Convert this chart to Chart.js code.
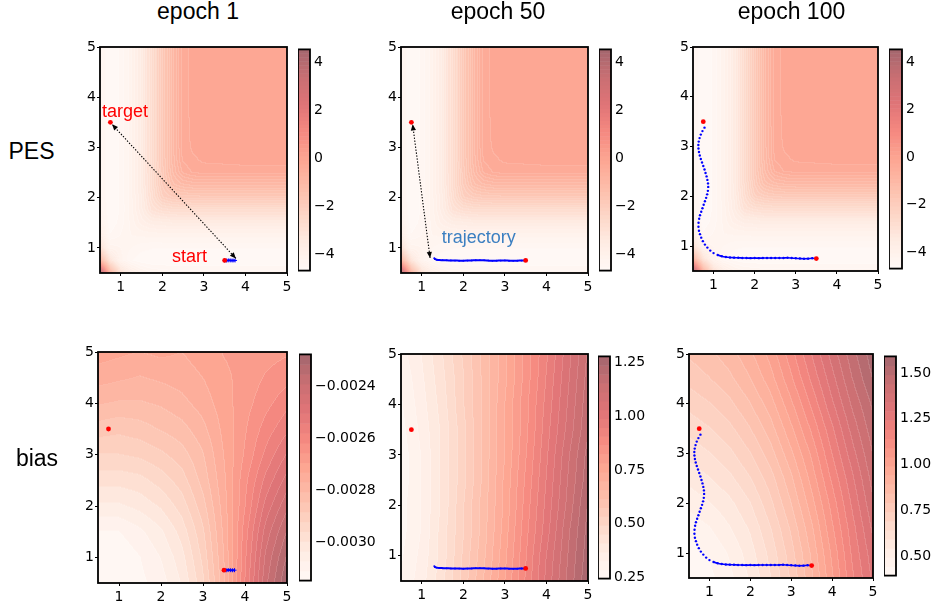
<!DOCTYPE html>
<html>
<head>
<meta charset="utf-8">
<script src="https://cdn.jsdelivr.net/npm/chart.js@4.4.1/dist/chart.umd.min.js"></script>
<style>
  body { margin: 0; background: #fff; }
  #page { position: relative; width: 936px; height: 605px; overflow: hidden; background: #fff; }
  .lbl { position: absolute; white-space: nowrap; color: #000; font-family: "Liberation Sans", Arial, sans-serif; font-size: 23px; line-height: 23px; transform: translateX(-50%); }
</style>
</head>
<body>
<div id="page"></div>
<script>
// ---- data ----
const axisTicks = [1, 2, 3, 4, 5];
const columnTitles = ['epoch 1', 'epoch 50', 'epoch 100'];
const rowTitles = ['PES', 'bias'];

// PES surface, rows go up in y, columns go right in x
const pesGridX = [0.5, 0.75, 1.0, 1.25, 1.5, 1.75, 2.0, 2.25, 2.5, 2.75, 3.0, 4.0, 5.0];
const pesGridY = [0.5, 0.75, 1.0, 1.25, 1.5, 1.75, 2.0, 2.25, 2.5, 2.75, 3.0, 4.0, 5.0];
const pesValues = [
  [ 4.50, -0.50, -2.80, -3.60, -4.00, -4.20, -4.25, -4.30, -4.30, -4.30, -4.30, -4.30, -4.30],
  [-0.50, -3.00, -4.10, -4.50, -4.65, -4.70, -4.70, -4.70, -4.70, -4.70, -4.70, -4.70, -4.70],
  [-2.80, -4.10, -4.20, -4.35, -4.45, -4.50, -4.50, -4.50, -4.50, -4.50, -4.50, -4.50, -4.50],
  [-3.60, -4.50, -4.35, -4.20, -4.15, -4.12, -4.10, -4.10, -4.10, -4.10, -4.10, -4.10, -4.10],
  [-4.00, -4.65, -4.45, -4.15, -3.80, -3.60, -3.55, -3.50, -3.50, -3.50, -3.50, -3.50, -3.50],
  [-4.20, -4.70, -4.50, -4.12, -3.60, -3.00, -2.80, -2.72, -2.70, -2.70, -2.70, -2.70, -2.70],
  [-4.25, -4.70, -4.50, -4.10, -3.55, -2.80, -2.10, -1.90, -1.82, -1.80, -1.80, -1.80, -1.80],
  [-4.30, -4.70, -4.50, -4.10, -3.50, -2.72, -1.90, -1.30, -1.10, -1.02, -1.00, -1.00, -1.00],
  [-4.30, -4.70, -4.50, -4.10, -3.50, -2.70, -1.82, -1.10, -0.55, -0.38, -0.34, -0.32, -0.32],
  [-4.30, -4.70, -4.50, -4.10, -3.50, -2.70, -1.80, -1.02, -0.38, -0.28, -0.21, -0.18, -0.18],
  [-4.30, -4.70, -4.50, -4.10, -3.50, -2.70, -1.80, -1.00, -0.34, -0.21, -0.17, -0.15, -0.15],
  [-4.30, -4.70, -4.50, -4.10, -3.50, -2.70, -1.80, -1.00, -0.32, -0.18, -0.15, -0.13, -0.12],
  [-4.30, -4.70, -4.50, -4.10, -3.50, -2.70, -1.80, -1.00, -0.32, -0.18, -0.15, -0.12, -0.10]
];
const pesRange = [-4.69, 4.53];
const pesTicks = [-4, -2, 0, 2, 4];

// bias surfaces share one grid
const biasGridX = [0.5, 1.0, 1.5, 2.0, 2.5, 3.0, 3.5, 4.0, 4.5, 5.0];
const biasGridY = [0.5, 1.0, 1.5, 2.0, 2.5, 3.0, 3.5, 4.0, 4.5, 5.0];
const bias1Values = [
  [-0.00315, -0.00314, -0.00312, -0.00309, -0.00303, -0.00293, -0.00278, -0.00258, -0.00240, -0.00228],
  [-0.00314, -0.00314, -0.00311, -0.00307, -0.00301, -0.00291, -0.00277, -0.00259, -0.00242, -0.00231],
  [-0.00311, -0.00311, -0.00308, -0.00304, -0.00298, -0.00289, -0.00276, -0.00260, -0.00245, -0.00235],
  [-0.00304, -0.00304, -0.00302, -0.00299, -0.00294, -0.00286, -0.00275, -0.00262, -0.00249, -0.00240],
  [-0.00298, -0.00298, -0.00297, -0.00294, -0.00290, -0.00283, -0.00274, -0.00263, -0.00253, -0.00245],
  [-0.00292, -0.00292, -0.00291, -0.00289, -0.00286, -0.00281, -0.00273, -0.00265, -0.00257, -0.00250],
  [-0.00286, -0.00287, -0.00286, -0.00284, -0.00282, -0.00278, -0.00272, -0.00266, -0.00260, -0.00255],
  [-0.00280, -0.00281, -0.00281, -0.00280, -0.00278, -0.00275, -0.00271, -0.00267, -0.00263, -0.00259],
  [-0.00275, -0.00276, -0.00277, -0.00276, -0.00275, -0.00273, -0.00270, -0.00268, -0.00265, -0.00263],
  [-0.00271, -0.00272, -0.00273, -0.00272, -0.00273, -0.00271, -0.00269, -0.00268, -0.00267, -0.00266]
];
const bias1Range = [-0.003147, -0.002275];
const bias1Ticks = [-0.0030, -0.0028, -0.0026, -0.0024];

const bias50Values = [
  [0.29, 0.35, 0.44, 0.55, 0.66, 0.78, 0.91, 1.04, 1.16, 1.27],
  [0.28, 0.34, 0.43, 0.54, 0.65, 0.77, 0.90, 1.03, 1.15, 1.26],
  [0.27, 0.33, 0.43, 0.53, 0.64, 0.76, 0.89, 1.01, 1.14, 1.25],
  [0.27, 0.33, 0.42, 0.53, 0.64, 0.75, 0.88, 1.00, 1.12, 1.24],
  [0.26, 0.33, 0.42, 0.52, 0.63, 0.75, 0.87, 0.99, 1.11, 1.22],
  [0.26, 0.33, 0.42, 0.52, 0.63, 0.74, 0.86, 0.98, 1.10, 1.21],
  [0.27, 0.34, 0.42, 0.52, 0.63, 0.74, 0.85, 0.97, 1.08, 1.19],
  [0.28, 0.35, 0.43, 0.53, 0.63, 0.74, 0.85, 0.96, 1.07, 1.18],
  [0.29, 0.36, 0.44, 0.53, 0.63, 0.73, 0.84, 0.95, 1.06, 1.17],
  [0.31, 0.37, 0.45, 0.54, 0.63, 0.73, 0.84, 0.94, 1.05, 1.16]
];
const bias50Range = [0.245, 1.28];
const bias50Ticks = [0.25, 0.50, 0.75, 1.00, 1.25];

const bias100Values = [
  [0.40, 0.43, 0.48, 0.55, 0.64, 0.75, 0.88, 1.03, 1.18, 1.30],
  [0.42, 0.45, 0.50, 0.57, 0.66, 0.77, 0.90, 1.05, 1.20, 1.32],
  [0.46, 0.49, 0.54, 0.60, 0.69, 0.80, 0.93, 1.08, 1.22, 1.35],
  [0.51, 0.54, 0.58, 0.64, 0.73, 0.84, 0.97, 1.11, 1.25, 1.38],
  [0.56, 0.59, 0.63, 0.69, 0.77, 0.88, 1.01, 1.15, 1.28, 1.41],
  [0.61, 0.64, 0.68, 0.74, 0.82, 0.93, 1.05, 1.19, 1.32, 1.44],
  [0.66, 0.69, 0.73, 0.79, 0.87, 0.98, 1.10, 1.23, 1.36, 1.47],
  [0.71, 0.74, 0.78, 0.84, 0.92, 1.03, 1.15, 1.28, 1.40, 1.50],
  [0.76, 0.79, 0.83, 0.89, 0.97, 1.08, 1.20, 1.32, 1.44, 1.54],
  [0.80, 0.83, 0.87, 0.93, 1.01, 1.12, 1.24, 1.36, 1.47, 1.57]
];
const bias100Range = [0.394, 1.59];
const bias100Ticks = [0.50, 0.75, 1.00, 1.25, 1.50];

// start and target points
const targetPoint = { x: 0.75, y: 3.5 };
const startPoint = { x: 3.5, y: 0.75 };

// trajectories, from start towards target
const traj1X = [3.5, 3.55, 3.6, 3.65, 3.7, 3.75];
const traj1Y = [0.75, 0.748, 0.752, 0.75, 0.748, 0.75];

const traj50X = [3.5, 3.4, 3.3, 3.2, 3.1, 3.0, 2.9, 2.8, 2.7, 2.6, 2.5, 2.4, 2.3, 2.2, 2.1, 2.0, 1.9, 1.8, 1.7, 1.6, 1.5, 1.42, 1.36, 1.32, 1.3];
const traj50Y = [0.75, 0.748, 0.745, 0.742, 0.745, 0.75, 0.748, 0.745, 0.743, 0.747, 0.752, 0.755, 0.754, 0.75, 0.747, 0.745, 0.746, 0.748, 0.75, 0.752, 0.755, 0.758, 0.765, 0.775, 0.795];

const traj100X = [3.5, 3.4, 3.3, 3.2, 3.1, 3.0, 2.9, 2.8, 2.7, 2.6, 2.5, 2.4, 2.3, 2.2, 2.1, 2.0, 1.9, 1.8, 1.7, 1.6, 1.5, 1.4, 1.3, 1.2, 1.1, 1.0,
  0.92, 0.85, 0.79, 0.74, 0.70, 0.67, 0.645, 0.633, 0.635, 0.65, 0.67, 0.70, 0.73, 0.76, 0.79, 0.82, 0.845, 0.862, 0.87, 0.865,
  0.85, 0.83, 0.805, 0.78, 0.75, 0.72, 0.69, 0.665, 0.645, 0.633, 0.63, 0.64, 0.66, 0.69, 0.73, 0.78];
const traj100Y = [0.75, 0.755, 0.748, 0.745, 0.75, 0.755, 0.76, 0.765, 0.762, 0.76, 0.762, 0.76, 0.762, 0.76, 0.758, 0.76, 0.758, 0.76, 0.762, 0.765, 0.768, 0.772, 0.78, 0.795, 0.82, 0.86,
  0.91, 0.97, 1.03, 1.10, 1.17, 1.24, 1.31, 1.39, 1.47, 1.55, 1.62, 1.69, 1.76, 1.83, 1.90, 1.97, 2.04, 2.11, 2.19, 2.26,
  2.33, 2.40, 2.47, 2.54, 2.61, 2.68, 2.75, 2.82, 2.89, 2.96, 3.03, 3.10, 3.17, 3.24, 3.31, 3.38];

// dotted double arrows (tail, head)
const arrow1 = [[3.77, 0.79], [0.79, 3.46]];
const arrow50 = [[1.2, 0.8], [0.78, 3.46]];

// text labels: [text, x, y]
const labels1 = [['target', 0.55, 3.61], ['start', 2.23, 0.72]];
const labels50 = [['trajectory', 1.48, 1.1]];

// ---- layout (pixel boxes: left, top, right, bottom) ----
const layout = [
  { ax: [100, 47, 287, 273], cb: [298, 47, 310, 273] },
  { ax: [401, 47, 588, 273], cb: [599, 47, 611, 273] },
  { ax: [693, 47, 878, 271], cb: [889, 47, 902, 271] },
  { ax: [98, 352, 287, 583], cb: [299, 352, 311, 583] },
  { ax: [401, 354, 588, 581], cb: [598, 354, 610, 581] },
  { ax: [689, 354, 873, 578], cb: [884, 354, 896, 578] }
];
const titleX = [198, 498, 791.5];
const titleBaseline = 19;
const rowX = [31.5, 37];
const rowBaseline = [159, 466];

const tickFont = { family: 'DejaVu Sans', size: 14 };
const textFont = '18px "Liberation Sans", Arial, sans-serif';

const pesField = { xs: pesGridX, ys: pesGridY, z: pesValues, range: pesRange, levels: 56, ticks: pesTicks, digits: 0 };
const bias1Field = { xs: biasGridX, ys: biasGridY, z: bias1Values, range: bias1Range, levels: 23, ticks: bias1Ticks, digits: 4 };
const bias50Field = { xs: biasGridX, ys: biasGridY, z: bias50Values, range: bias50Range, levels: 25, ticks: bias50Ticks, digits: 2 };
const bias100Field = { xs: biasGridX, ys: biasGridY, z: bias100Values, range: bias100Range, levels: 24, ticks: bias100Ticks, digits: 2 };

const runs = [
  { tx: traj1X, ty: traj1Y, style: 'short' },
  { tx: traj50X, ty: traj50Y, style: 'line' },
  { tx: traj100X, ty: traj100Y, style: 'dots' }
];

const panels = [
  { field: pesField, run: runs[0], arrow: arrow1, texts: labels1, textColor: '#ff0000' },
  { field: pesField, run: runs[1], arrow: arrow50, texts: labels50, textColor: '#3b7fc1' },
  { field: pesField, run: runs[2], arrow: null, texts: [] },
  { field: bias1Field, run: runs[0], arrow: null, texts: [] },
  { field: bias50Field, run: runs[1], arrow: null, texts: [] },
  { field: bias100Field, run: runs[2], arrow: null, texts: [] }
];

// ---- colour map: matplotlib Reds at alpha 0.6 on white ----
const redsStops = [[255, 245, 240], [254, 224, 210], [252, 187, 161], [252, 146, 114], [251, 106, 74], [239, 59, 44], [203, 24, 29], [165, 15, 21], [103, 0, 13]];
const ALPHA = 0.6;

function reds(t) {
  t = Math.max(0, Math.min(1, t));
  const p = t * (redsStops.length - 1);
  const i = Math.min(redsStops.length - 2, Math.floor(p));
  const f = p - i;
  return redsStops[i].map((c, k) => {
    const v = c + (redsStops[i + 1][k] - c) * f;
    return Math.round(255 - ALPHA * (255 - v));
  });
}

function levelColors(n) {
  const out = [];
  for (let k = 0; k < n; k++) out.push(reds((k + 0.5) / n));
  return out;
}

// bilinear lookup in a rectilinear grid
function sampleGrid(f, x, y) {
  const find = (arr, v) => {
    let i = 0;
    while (i < arr.length - 2 && v > arr[i + 1]) i++;
    return i;
  };
  const i = find(f.xs, x), j = find(f.ys, y);
  const u = Math.max(0, Math.min(1, (x - f.xs[i]) / (f.xs[i + 1] - f.xs[i])));
  const v = Math.max(0, Math.min(1, (y - f.ys[j]) / (f.ys[j + 1] - f.ys[j])));
  const z = f.z;
  return z[j][i] * (1 - u) * (1 - v) + z[j][i + 1] * u * (1 - v) + z[j + 1][i] * (1 - u) * v + z[j + 1][i + 1] * u * v;
}

function formatTick(v, digits) {
  const s = Math.abs(v).toFixed(digits);
  return (v < 0 ? '\u2212' : '') + s;
}

// ---- plugins ----
function heatmapPlugin(field) {
  return {
    id: 'heatmap',
    beforeDatasetsDraw(chart) {
      const { ctx, chartArea: a, scales: { x, y } } = chart;
      const x0 = Math.round(a.left), y0 = Math.round(a.top);
      const w = Math.round(a.right) - x0, h = Math.round(a.bottom) - y0;
      const colors = levelColors(field.levels);
      const step = (field.range[1] - field.range[0]) / field.levels;
      const idx = new Int16Array(w * h);
      for (let j = 0; j < h; j++) {
        const yv = y.getValueForPixel(y0 + j + 0.5);
        for (let i = 0; i < w; i++) {
          const xv = x.getValueForPixel(x0 + i + 0.5);
          const k = Math.floor((sampleGrid(field, xv, yv) - field.range[0]) / step);
          idx[j * w + i] = Math.max(0, Math.min(field.levels - 1, k));
        }
      }
      const img = ctx.createImageData(w, h);
      for (let j = 0; j < h; j++) {
        for (let i = 0; i < w; i++) {
          const k = idx[j * w + i];
          let c = colors[k];
          // faint light seam where two bands meet, as contourf leaves
          const edge = (i < w - 1 && idx[j * w + i + 1] !== k) || (j < h - 1 && idx[(j + 1) * w + i] !== k);
          if (edge) c = c.map(v => Math.round(v + (255 - v) * 0.12));
          const p = (j * w + i) * 4;
          img.data[p] = c[0]; img.data[p + 1] = c[1]; img.data[p + 2] = c[2]; img.data[p + 3] = 255;
        }
      }
      ctx.putImageData(img, x0, y0);
    }
  };
}

function colorbarPlugin(field) {
  return {
    id: 'colorbar',
    beforeDatasetsDraw(chart) {
      const { ctx, chartArea: a, scales: { y } } = chart;
      const colors = levelColors(field.levels);
      const step = (field.range[1] - field.range[0]) / field.levels;
      for (let k = 0; k < field.levels; k++) {
        const lo = y.getPixelForValue(field.range[0] + k * step);
        const hi = y.getPixelForValue(field.range[0] + (k + 1) * step);
        ctx.fillStyle = `rgb(${colors[k].join(',')})`;
        ctx.fillRect(a.left, hi, a.right - a.left, lo - hi + 0.5);
      }
    }
  };
}

const framePlugin = {
  id: 'frame',
  afterDraw(chart) {
    const { ctx, chartArea: a } = chart;
    ctx.save();
    ctx.strokeStyle = '#000';
    ctx.lineWidth = 1.8;
    ctx.strokeRect(a.left, a.top, a.right - a.left, a.bottom - a.top);
    ctx.restore();
  }
};

function arrowHead(ctx, fx, fy, tx, ty) {
  const ang = Math.atan2(ty - fy, tx - fx);
  const len = 6, half = 2.6;
  ctx.beginPath();
  ctx.moveTo(tx, ty);
  ctx.lineTo(tx - len * Math.cos(ang) + half * Math.sin(ang), ty - len * Math.sin(ang) - half * Math.cos(ang));
  ctx.lineTo(tx - len * Math.cos(ang) - half * Math.sin(ang), ty - len * Math.sin(ang) + half * Math.cos(ang));
  ctx.closePath();
  ctx.fill();
}

function overlayPlugin(panel) {
  return {
    id: 'overlay',
    afterDatasetsDraw(chart) {
      const { ctx, scales: { x, y } } = chart;
      ctx.save();
      if (panel.arrow) {
        const [a, b] = panel.arrow;
        const ax = x.getPixelForValue(a[0]), ay = y.getPixelForValue(a[1]);
        const bx = x.getPixelForValue(b[0]), by = y.getPixelForValue(b[1]);
        ctx.strokeStyle = '#000';
        ctx.fillStyle = '#000';
        ctx.lineWidth = 1.1;
        ctx.setLineDash([1.4, 1.6]);
        ctx.beginPath();
        ctx.moveTo(ax, ay);
        ctx.lineTo(bx, by);
        ctx.stroke();
        ctx.setLineDash([]);
        arrowHead(ctx, bx, by, ax, ay);
        arrowHead(ctx, ax, ay, bx, by);
      }
      ctx.font = textFont;
      ctx.textBaseline = 'alphabetic';
      ctx.textAlign = 'left';
      ctx.fillStyle = panel.textColor || '#000';
      panel.texts.forEach(([s, tx, ty]) => {
        ctx.fillText(s, x.getPixelForValue(tx), y.getPixelForValue(ty));
      });
      ctx.restore();
    }
  };
}

// ---- building the page ----
const page = document.getElementById('page');

function makeCanvas(left, top, w, h) {
  const c = document.createElement('canvas');
  c.width = w;
  c.height = h;
  c.style.cssText = `position:absolute;left:${left}px;top:${top}px;width:${w}px;height:${h}px`;
  page.appendChild(c);
  return c.getContext('2d');
}

function trajectoryDataset(run) {
  const data = run.tx.map((v, i) => ({ x: v, y: run.ty[i] }));
  const base = { data, showLine: true, borderColor: '#0000ff', backgroundColor: '#0000ff', order: 1, tension: 0.3 };
  if (run.style === 'short') {
    return Object.assign(base, { borderWidth: 2, pointRadius: 2, pointStyle: 'cross', pointBorderWidth: 1, pointBorderColor: '#0000ff' });
  }
  if (run.style === 'line') {
    return Object.assign(base, { borderWidth: 2, pointRadius: 0.9, pointBorderWidth: 0 });
  }
  // dotted in the climb, solid along the flat valley
  return Object.assign(base, {
    borderWidth: 1.6, pointRadius: 1.2, pointBorderWidth: 0,
    segment: { borderColor: c => (c.p0.parsed.y < 0.85 && c.p1.parsed.y < 0.85) ? '#0000ff' : 'rgba(0,0,0,0)' }
  });
}

const PAD_L = 45, PAD_T = 10, PAD_R = 8, PAD_B = 30;
const CB_R = 72, CB_V = 10;

function buildPanel(panel, lay) {
  const [l, t, r, b] = lay.ax;
  const w = r - l + PAD_L + PAD_R, h = b - t + PAD_T + PAD_B;
  const ctx = makeCanvas(l - PAD_L, t - PAD_T, w, h);
  const fixTicks = s => { s.ticks = axisTicks.map(v => ({ value: v })); };
  new Chart(ctx, {
    type: 'scatter',
    data: {
      datasets: [
        { data: [targetPoint, startPoint], pointRadius: 2.4, pointBorderWidth: 0, backgroundColor: '#ff0000', order: 0 },
        trajectoryDataset(panel.run)
      ]
    },
    options: {
      responsive: false, animation: false, devicePixelRatio: 1,
      layout: { padding: { top: PAD_T, right: PAD_R, left: 0, bottom: 0 } },
      plugins: { legend: { display: false }, tooltip: { enabled: false } },
      scales: {
        x: {
          type: 'linear', min: 0.5, max: 5,
          afterBuildTicks: fixTicks,
          afterFit: s => { s.height = PAD_B; },
          ticks: { font: tickFont, color: '#000', padding: 3, maxRotation: 0, autoSkip: false, callback: v => String(v) },
          grid: { drawOnChartArea: false, drawTicks: true, tickLength: 3, color: '#000' },
          border: { display: false }
        },
        y: {
          type: 'linear', min: 0.5, max: 5,
          afterBuildTicks: fixTicks,
          afterFit: s => { s.width = PAD_L; },
          ticks: { font: tickFont, color: '#000', padding: 1, autoSkip: false, callback: v => String(v) },
          grid: { drawOnChartArea: false, drawTicks: true, tickLength: 3, color: '#000' },
          border: { display: false }
        }
      }
    },
    plugins: [heatmapPlugin(panel.field), overlayPlugin(panel), framePlugin]
  });
}

function buildColorbar(field, lay) {
  const [l, t, r, b] = lay.cb;
  const ctx = makeCanvas(l, t - CB_V, r - l + CB_R, b - t + 2 * CB_V);
  new Chart(ctx, {
    type: 'scatter',
    data: { datasets: [] },
    options: {
      responsive: false, animation: false, devicePixelRatio: 1,
      layout: { padding: { top: CB_V, bottom: CB_V, left: 0, right: 0 } },
      plugins: { legend: { display: false }, tooltip: { enabled: false } },
      scales: {
        x: { type: 'linear', display: false, min: 0, max: 1 },
        y: {
          type: 'linear', position: 'right', min: field.range[0], max: field.range[1],
          afterBuildTicks: s => { s.ticks = field.ticks.map(v => ({ value: v })); },
          afterFit: s => { s.width = CB_R; },
          ticks: { font: tickFont, color: '#000', padding: 4, autoSkip: false, callback: v => formatTick(v, field.digits) },
          grid: { display: false, drawTicks: false },
          border: { display: false }
        }
      }
    },
    plugins: [colorbarPlugin(field), framePlugin]
  });
}

function addLabel(text, cx, baseline) {
  const d = document.createElement('div');
  d.className = 'lbl';
  d.textContent = text;
  d.style.left = cx + 'px';
  d.style.top = (baseline - 19.5) + 'px';
  page.appendChild(d);
}

panels.forEach((p, i) => {
  buildPanel(p, layout[i]);
  buildColorbar(p.field, layout[i]);
});
columnTitles.forEach((s, i) => addLabel(s, titleX[i], titleBaseline));
rowTitles.forEach((s, i) => addLabel(s, rowX[i], rowBaseline[i]));
</script>
</body>
</html>
